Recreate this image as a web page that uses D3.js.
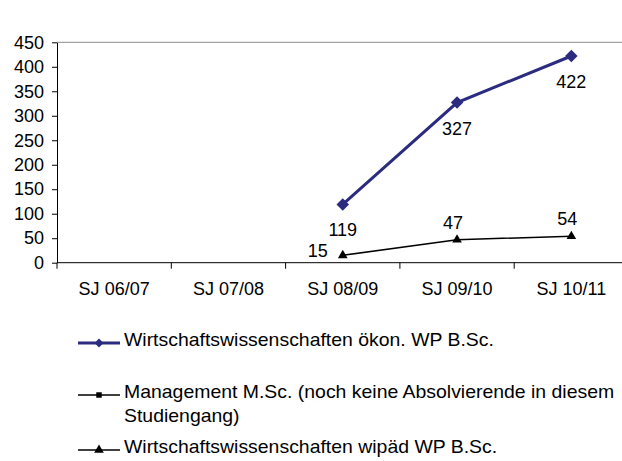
<!DOCTYPE html>
<html>
<head>
<meta charset="utf-8">
<script src="https://cdn.jsdelivr.net/npm/d3@7"></script>
<style>
  html, body { margin: 0; padding: 0; background: #fff; }
  svg { display: block; font-family: "Liberation Sans", Arial, sans-serif; }
</style>
</head>
<body>
<svg id="chart" width="622" height="461"></svg>
<script>
// Studienjahre (categories)
const years = ["SJ 06/07", "SJ 07/08", "SJ 08/09", "SJ 09/10", "SJ 10/11"];

// Absolvierende je Studiengang (null = keine Werte)
const oekonWP = [null, null, 119, 327, 422];
const management = [null, null, null, null, null];
const wipaedWP = [null, null, 15, 47, 54];

const yTicks = [0, 50, 100, 150, 200, 250, 300, 350, 400, 450];

const legendLabels = [
  ["Wirtschaftswissenschaften ökon. WP B.Sc."],
  ["Management M.Sc. (noch keine Absolvierende in diesem", "Studiengang)"],
  ["Wirtschaftswissenschaften wipäd WP B.Sc."]
];

const navy = "#2b2b80";
const FONT = "'Liberation Sans', Arial, sans-serif";
const FS = 18;
const svg = d3.select("#chart");

const plot = { left: 57, right: 628.5, top: 42.3, bottom: 262.7 };

const x = d3.scaleBand().domain(years).range([plot.left, plot.right]);
const y = d3.scaleLinear().domain([0, 450]).range([plot.bottom, plot.top]);
const cx = d => x(d) + x.bandwidth() / 2;

// top frame line
svg.append("line")
  .attr("x1", plot.left).attr("x2", plot.right)
  .attr("y1", plot.top).attr("y2", plot.top)
  .attr("stroke", "#8c8c8c").attr("stroke-width", 1);

// y axis
const yAxis = svg.append("g")
  .attr("transform", `translate(${plot.left},0)`)
  .call(d3.axisLeft(y).tickValues(yTicks).tickSize(5).tickPadding(8).tickSizeOuter(0));
yAxis.select(".domain").attr("stroke", "#000");
yAxis.selectAll("text").attr("font-size", FS).attr("fill", "#000").attr("font-family", FONT);

// x axis, ticks at band boundaries
const xAxis = svg.append("g")
  .attr("transform", `translate(0,${plot.bottom})`)
  .call(d3.axisBottom(x).tickSize(0).tickPadding(20));
xAxis.select(".domain").remove();
xAxis.selectAll("text").attr("font-size", FS).attr("fill", "#000").attr("font-family", FONT);
xAxis.append("line")
  .attr("x1", plot.left).attr("x2", plot.right)
  .attr("y1", 0).attr("y2", 0).attr("stroke", "#000");
xAxis.selectAll(".bound")
  .data(years)
  .enter().append("line")
  .attr("x1", d => x(d)).attr("x2", d => x(d))
  .attr("y1", 0).attr("y2", 6).attr("stroke", "#000");

// series lines
const line = d3.line()
  .defined(d => d.v !== null)
  .x(d => cx(d.k))
  .y(d => y(d.v));

const toPts = arr => years.map((k, i) => ({ k, v: arr[i] }));

const diamond = d3.symbol().type(d3.symbolDiamond2).size(100);
const diamondSmall = d3.symbol().type(d3.symbolDiamond2).size(50);
const triangle = d3.symbol().type(d3.symbolTriangle).size(40);
const square = d3.symbol().type(d3.symbolSquare).size(30);

// ökon. WP
const s1 = toPts(oekonWP);
svg.append("path").datum(s1).attr("d", line)
  .attr("fill", "none").attr("stroke", navy).attr("stroke-width", 3);
svg.selectAll(".m1").data(s1.filter(d => d.v !== null)).enter()
  .append("path")
  .attr("d", diamond)
  .attr("transform", d => `translate(${cx(d.k)},${y(d.v)})`)
  .attr("fill", navy);
svg.selectAll(".l1").data(s1.filter(d => d.v !== null)).enter()
  .append("text")
  .attr("x", d => cx(d.k)).attr("y", d => y(d.v) + 32)
  .attr("text-anchor", "middle").attr("font-size", FS).attr("fill", "#000")
  .text(d => d.v);

// Management (keine Werte)
const s2 = toPts(management);
svg.append("path").datum(s2).attr("d", line)
  .attr("fill", "none").attr("stroke", "#000").attr("stroke-width", 1.5);

// wipäd WP
const s3 = toPts(wipaedWP);
svg.append("path").datum(s3).attr("d", line)
  .attr("fill", "none").attr("stroke", "#000").attr("stroke-width", 1.5);
svg.selectAll(".m3").data(s3.filter(d => d.v !== null)).enter()
  .append("path")
  .attr("d", triangle)
  .attr("transform", d => `translate(${cx(d.k)},${y(d.v)})`)
  .attr("fill", "#000");
svg.selectAll(".l3").data(s3.filter(d => d.v !== null)).enter()
  .append("text")
  .attr("x", (d, i) => i === 0 ? cx(d.k) - 15 : cx(d.k) - 4)
  .attr("y", (d, i) => i === 0 ? y(d.v) + 2 : y(d.v) - 11)
  .attr("text-anchor", (d, i) => i === 0 ? "end" : "middle")
  .attr("font-size", FS).attr("fill", "#000")
  .text(d => d.v);

// legend
const legend = svg.append("g");
const legendItems = [
  { y: 343, color: navy, width: 3, sym: diamondSmall, lines: legendLabels[0] },
  { y: 395, color: "#000", width: 1.5, sym: square, lines: legendLabels[1] },
  { y: 450, color: "#000", width: 1.5, sym: triangle, lines: legendLabels[2] }
];
legendItems.forEach(it => {
  const g = legend.append("g").attr("transform", `translate(0,${it.y})`);
  g.append("line").attr("x1", 78).attr("x2", 120).attr("y1", 0).attr("y2", 0)
    .attr("stroke", it.color).attr("stroke-width", it.width);
  g.append("path").attr("d", it.sym).attr("transform", "translate(99,0)")
    .attr("fill", it.color);
  it.lines.forEach((t, j) => {
    g.append("text")
      .attr("transform", `translate(124,${3 + j * 24}) scale(1.08,1)`)
      .attr("font-size", FS).attr("fill", "#000").text(t);
  });
});
</script>
</body>
</html>
